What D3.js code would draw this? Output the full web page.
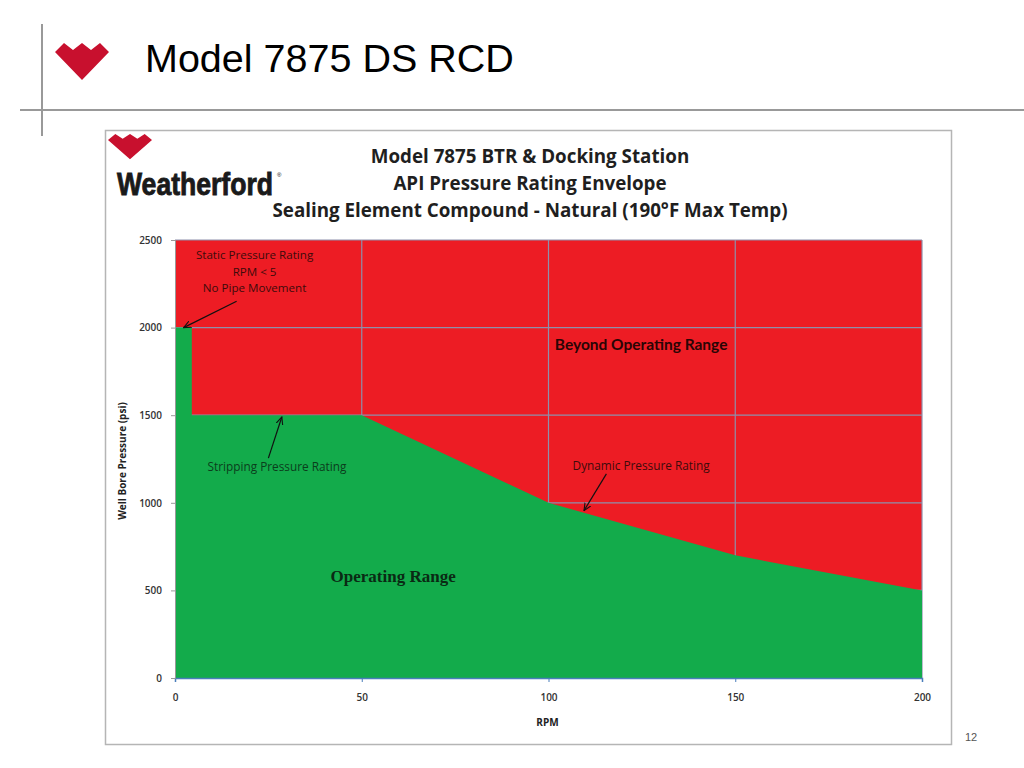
<!DOCTYPE html>
<html>
<head>
  <meta charset="utf-8">
  <title>Model 7875 DS RCD</title>
  <script src="https://cdn.jsdelivr.net/npm/d3@7/dist/d3.min.js"></script>
  <style>
    body { margin: 0; background: #fff; }
  </style>
</head>
<body>
  <svg width="1024" height="768" id="mainsvg"></svg>
  <script>
      // envelope data (RPM vs well bore pressure)
      const rpm = [0, 4.5, 4.5, 50, 100, 150, 200];
      const psi = [2000, 2000, 1500, 1500, 1000, 700, 500];
      const xTicks = [0, 50, 100, 150, 200];
      const yTicks = [0, 500, 1000, 1500, 2000, 2500];
      const titleLines = ['Model 7875 BTR & Docking Station', 'API Pressure Rating Envelope',
        'Sealing Element Compound - Natural (190°F Max Temp)'];
      const staticNote = ['Static Pressure Rating', 'RPM < 5', 'No Pipe Movement'];

      const svg = d3.select('svg');
      const red = '#ed1c24', green = '#13ab4b', grid = '#8e8fab';

      // slide chrome
      svg.append('line').attr('x1', 42).attr('x2', 42).attr('y1', 24).attr('y2', 136)
        .attr('stroke', '#999').attr('stroke-width', 2);
      svg.append('line').attr('x1', 20).attr('x2', 1024).attr('y1', 110).attr('y2', 110)
        .attr('stroke', '#999').attr('stroke-width', 2);
      const logo = (g, x, y, sx, sy) => {
        // heart made of diamonds
        const pts = [[0, 9], [9, 0], [18, 7], [27, 0], [36, 7], [45, 0], [54, 9], [27, 37]];
        g.append('polygon')
          .attr('points', pts.map(p => [x + p[0] * sx, y + p[1] * sy].join(',')).join(' '))
          .attr('fill', '#c8102e');
      };
      logo(svg, 55, 43, 1, 1);
      svg.append('text').attr('x', 145).attr('y', 72).text('Model 7875 DS RCD')
        .attr('font-family', 'Liberation Sans, Arial, sans-serif').attr('font-size', 39.5).attr('fill', '#000');
      svg.append('text').attr('x', 965).attr('y', 741).text('12')
        .attr('font-family', 'Liberation Sans, Arial, sans-serif').attr('font-size', 11).attr('fill', '#555');

      // chart frame
      svg.append('rect').attr('x', 105.5).attr('y', 130.5).attr('width', 846).attr('height', 614)
        .attr('fill', '#fff').attr('stroke', '#b5b5b5').attr('stroke-width', 1.5);
      logo(svg, 108, 134, 0.815, 0.68);
      svg.append('text').attr('x', 117).attr('y', 195).text('Weatherford')
        .attr('font-family', 'Liberation Sans Narrow, Liberation Sans, Arial, sans-serif')
        .attr('font-weight', 'bold').attr('font-size', 32).attr('textLength', 156)
        .attr('lengthAdjust', 'spacingAndGlyphs').attr('fill', '#1a1a1a')
        .attr('stroke', '#1a1a1a').attr('stroke-width', 0.9);
      svg.append('text').attr('x', 277).attr('y', 177).text('®').attr('font-size', 6)
        .attr('font-family', 'Liberation Sans, Arial, sans-serif');
      svg.selectAll('.title').data(titleLines).join('text')
        .attr('class', 'title')
        .attr('x', 530).attr('y', (d, i) => 163 + i * 27)
        .attr('text-anchor', 'middle').text(d => d)
        .attr('font-family', 'Open Sans, Lato, sans-serif').attr('font-weight', 'bold')
        .attr('font-size', 18.8).attr('fill', '#1f1f1f');

      const margin = {top: 240, left: 175};
      const innerWidth = 922 - 175, innerHeight = 678 - 240;
      const mainGroup = svg.append('g').attr('transform', `translate(${margin.left}, ${margin.top})`);
      const xScale = d3.scaleLinear().domain([0, 200]).range([0, innerWidth]);
      const yScale = d3.scaleLinear().domain([0, 2500]).range([innerHeight, 0]);

      // beyond operating range background
      mainGroup.append('rect').attr('width', innerWidth).attr('height', innerHeight).attr('fill', red);
      mainGroup.selectAll('.vgrid').data(xTicks.slice(1)).join('line').attr('class', 'vgrid')
        .attr('x1', d => xScale(d)).attr('x2', d => xScale(d)).attr('y1', 0).attr('y2', innerHeight)
        .attr('stroke', grid).attr('stroke-width', 1.2);
      mainGroup.selectAll('.hgrid').data(yTicks.slice(1)).join('line').attr('class', 'hgrid')
        .attr('x1', 0).attr('x2', innerWidth).attr('y1', d => yScale(d)).attr('y2', d => yScale(d))
        .attr('stroke', grid).attr('stroke-width', 1.2);

      // operating range
      const envelope = rpm.map((r, i) => ({rpm: r, psi: psi[i]}));
      const area = d3.area().x(d => xScale(d.rpm)).y0(yScale(0)).y1(d => yScale(d.psi));
      mainGroup.append('path').datum(envelope).attr('d', area).attr('fill', green);

      // axes
      const xAxis = d3.axisBottom(xScale).tickValues(xTicks).tickFormat(d3.format('d')).tickSize(4).tickPadding(12);
      const yAxis = d3.axisLeft(yScale).tickValues(yTicks).tickFormat(d3.format('d')).tickSize(4).tickPadding(9);
      const xAxisGroup = mainGroup.append('g').call(xAxis).attr('transform', `translate(0, ${innerHeight})`);
      const yAxisGroup = mainGroup.append('g').call(yAxis);
      xAxisGroup.select('.domain').attr('stroke', '#4a7ebb').attr('stroke-width', 1.5);
      xAxisGroup.selectAll('.tick line').attr('stroke', '#4a7ebb');
      yAxisGroup.select('.domain').attr('stroke', '#999');
      yAxisGroup.selectAll('.tick line').attr('stroke', '#999');
      mainGroup.selectAll('.tick text').attr('font-family', 'Open Sans, sans-serif')
        .attr('font-size', 10).attr('font-weight', 600).attr('fill', '#333');
      xAxisGroup.append('text').attr('class', 'axisTitle').text('RPM')
        .attr('x', innerWidth / 2 - 1).attr('y', 48);
      yAxisGroup.append('text').attr('class', 'axisTitle').text('Well Bore Pressure (psi)')
        .attr('transform', 'rotate(-90)').attr('x', -innerHeight / 2 - 2).attr('y', -49);
      mainGroup.selectAll('.axisTitle').attr('text-anchor', 'middle').attr('fill', '#222')
        .attr('font-family', 'Open Sans, sans-serif').attr('font-weight', 'bold').attr('font-size', 10);

      // annotations
      const note = (txt, x, y, color, size) => mainGroup.append('text').text(txt)
        .attr('x', x).attr('y', y).attr('text-anchor', 'middle').attr('fill', color)
        .attr('font-family', 'Open Sans, sans-serif').attr('font-size', size || 11);
      staticNote.forEach((t, i) => note(t, xScale(21.3), yScale(2390) + i * 16.5, '#3d0b0b', 11.6));
      note('Stripping Pressure Rating', xScale(27.3), yScale(1180), '#0b3d1c', 11.8);
      note('Dynamic Pressure Rating', xScale(124.8), yScale(1185), '#3d0b0b', 11.8);
      note('Beyond Operating Range', xScale(124.8), yScale(1875), '#2a0505', 15.5)
        .attr('font-family', 'Lato, Noto Sans, sans-serif').attr('font-weight', 'bold');
      note('Operating Range', xScale(58.4), yScale(550), '#0a2a14', 17)
        .attr('font-family', 'Liberation Serif, Times New Roman, serif').attr('font-weight', 'bold');

      svg.append('defs').append('marker').attr('id', 'arr').attr('viewBox', '0 0 10 10')
        .attr('refX', 9).attr('refY', 5).attr('markerWidth', 7).attr('markerHeight', 7)
        .attr('orient', 'auto').append('path').attr('d', 'M0,1 L9,5 L0,9').attr('fill', 'none')
        .attr('stroke', '#111').attr('stroke-width', 1.3);
      const arrow = (x1, y1, x2, y2) => mainGroup.append('line')
        .attr('x1', xScale(x1)).attr('y1', yScale(y1)).attr('x2', xScale(x2)).attr('y2', yScale(y2))
        .attr('stroke', '#111').attr('stroke-width', 1.2).attr('marker-end', 'url(#arr)');
      arrow(16.5, 2150, 2.3, 2000);
      arrow(25, 1255, 28.6, 1490);
      arrow(115.5, 1165, 109.5, 955);
  </script>
</body>
</html>
